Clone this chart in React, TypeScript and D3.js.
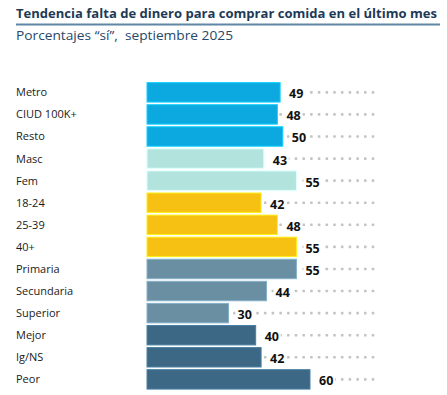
import React, { useEffect, useRef } from "react";
import * as d3 from "d3";

// Chart data
const categories = ["Metro", "CIUD 100K+", "Resto", "Masc", "Fem", "18-24", "25-39", "40+", "Primaria", "Secundaria", "Superior", "Mejor", "Ig/NS", "Peor"];
const values = [49, 48, 50, 43, 55, 42, 48, 55, 55, 44, 30, 40, 42, 60];
const groups = ["zona", "zona", "zona", "sexo", "sexo", "edad", "edad", "edad", "educ", "educ", "educ", "sit", "sit", "sit"];
const groupNames = ["zona", "sexo", "edad", "educ", "sit"];
const groupColors = ["#0ca9e1", "#b2e3dd", "#f6c112", "#6a8fa3", "#3c6885"];

const title = "Tendencia falta de dinero para comprar comida en el último mes";
const subtitle = "Porcentajes \u201Cs\u00ED\u201D,  septiembre 2025";

const W = 447;
const H = 395;

const App = () => {
    const ref = useRef<SVGSVGElement>(null);

    useEffect(() => {
        document.body.style.margin = "0";
        const svg = d3.select(ref.current);
        svg.selectAll("*").remove();

        const font = "'Open Sans', 'Noto Sans', sans-serif";

        // Scales
        const x = d3.scaleLinear().domain([0, 60]).range([147, 310]);
        const y = d3.scaleBand<string>()
            .domain(categories)
            .range([81.3, 390.4])
            .paddingInner(0.12)
            .paddingOuter(0.06);
        const color = d3.scaleOrdinal<string, string>().domain(groupNames).range(groupColors);

        const dotEnd = 373;
        const dotStep = 7.7;

        // Title block
        svg.append("text")
            .attr("x", 16)
            .attr("y", 18)
            .attr("font-family", font)
            .attr("font-weight", "bold")
            .attr("font-size", 13)
            .attr("fill", "#1d3a57")
            .attr("textLength", 421)
            .attr("lengthAdjust", "spacingAndGlyphs")
            .text(title);

        svg.append("line")
            .attr("x1", 16).attr("x2", 440)
            .attr("y1", 24.5).attr("y2", 24.5)
            .attr("stroke", "#5f87a5")
            .attr("stroke-width", 2);

        svg.append("text")
            .attr("x", 16)
            .attr("y", 40)
            .attr("font-family", font)
            .attr("font-size", 13)
            .attr("fill", "#27486a")
            .style("white-space", "pre")
            .attr("textLength", 217)
            .attr("lengthAdjust", "spacingAndGlyphs")
            .text(subtitle);

        const rows = svg.append("g")
            .selectAll("g")
            .data(categories)
            .enter()
            .append("g");

        // Category labels
        rows.append("text")
            .attr("x", 16)
            .attr("y", (d) => (y(d) as number) + y.bandwidth() / 2)
            .attr("dy", "0.36em")
            .attr("font-family", font)
            .attr("font-size", 11)
            .attr("fill", "#1a1a1a")
            .text((d) => d);

        // Dotted guide from bar end to the right edge
        rows.each(function (d, i) {
            const g = d3.select(this);
            const end = x(values[i]);
            const cy = (y(d) as number) + y.bandwidth() / 2;
            const dots = d3.range(dotEnd, end + 3, -dotStep);
            g.selectAll("rect.dot")
                .data(dots)
                .enter()
                .append("rect")
                .attr("class", "dot")
                .attr("x", (v) => v - 1.3)
                .attr("y", cy - 1.3)
                .attr("width", 2.6)
                .attr("height", 2.6)
                .attr("rx", 0.6)
                .attr("fill", "#c4c4c4");
        });

        // Bars
        rows.append("rect")
            .attr("x", x(0))
            .attr("y", (d) => y(d) as number)
            .attr("width", (d, i) => x(values[i]) - x(0))
            .attr("height", y.bandwidth())
            .attr("fill", (d, i) => color(groups[i]))
            .attr("stroke", (d, i) => d3.color(color(groups[i]))!.brighter(0.6).toString())
            .attr("stroke-width", 1);

        // Value labels with a white patch over the dots
        rows.append("rect")
            .attr("x", (d, i) => x(values[i]) + 7)
            .attr("y", (d) => (y(d) as number) + 4)
            .attr("width", 18)
            .attr("height", y.bandwidth() - 8)
            .attr("fill", "white");

        rows.append("text")
            .attr("x", (d, i) => x(values[i]) + 9)
            .attr("y", (d) => (y(d) as number) + y.bandwidth() / 2 + 1.5)
            .attr("dy", "0.36em")
            .attr("font-family", font)
            .attr("font-weight", "bold")
            .attr("font-size", 12.5)
            .attr("fill", "#111")
            .text((d, i) => values[i]);
    }, []);

    return (
        <svg ref={ref} width={W} height={H} style={{ display: "block", background: "white" }}></svg>
    );
};

export default App;
